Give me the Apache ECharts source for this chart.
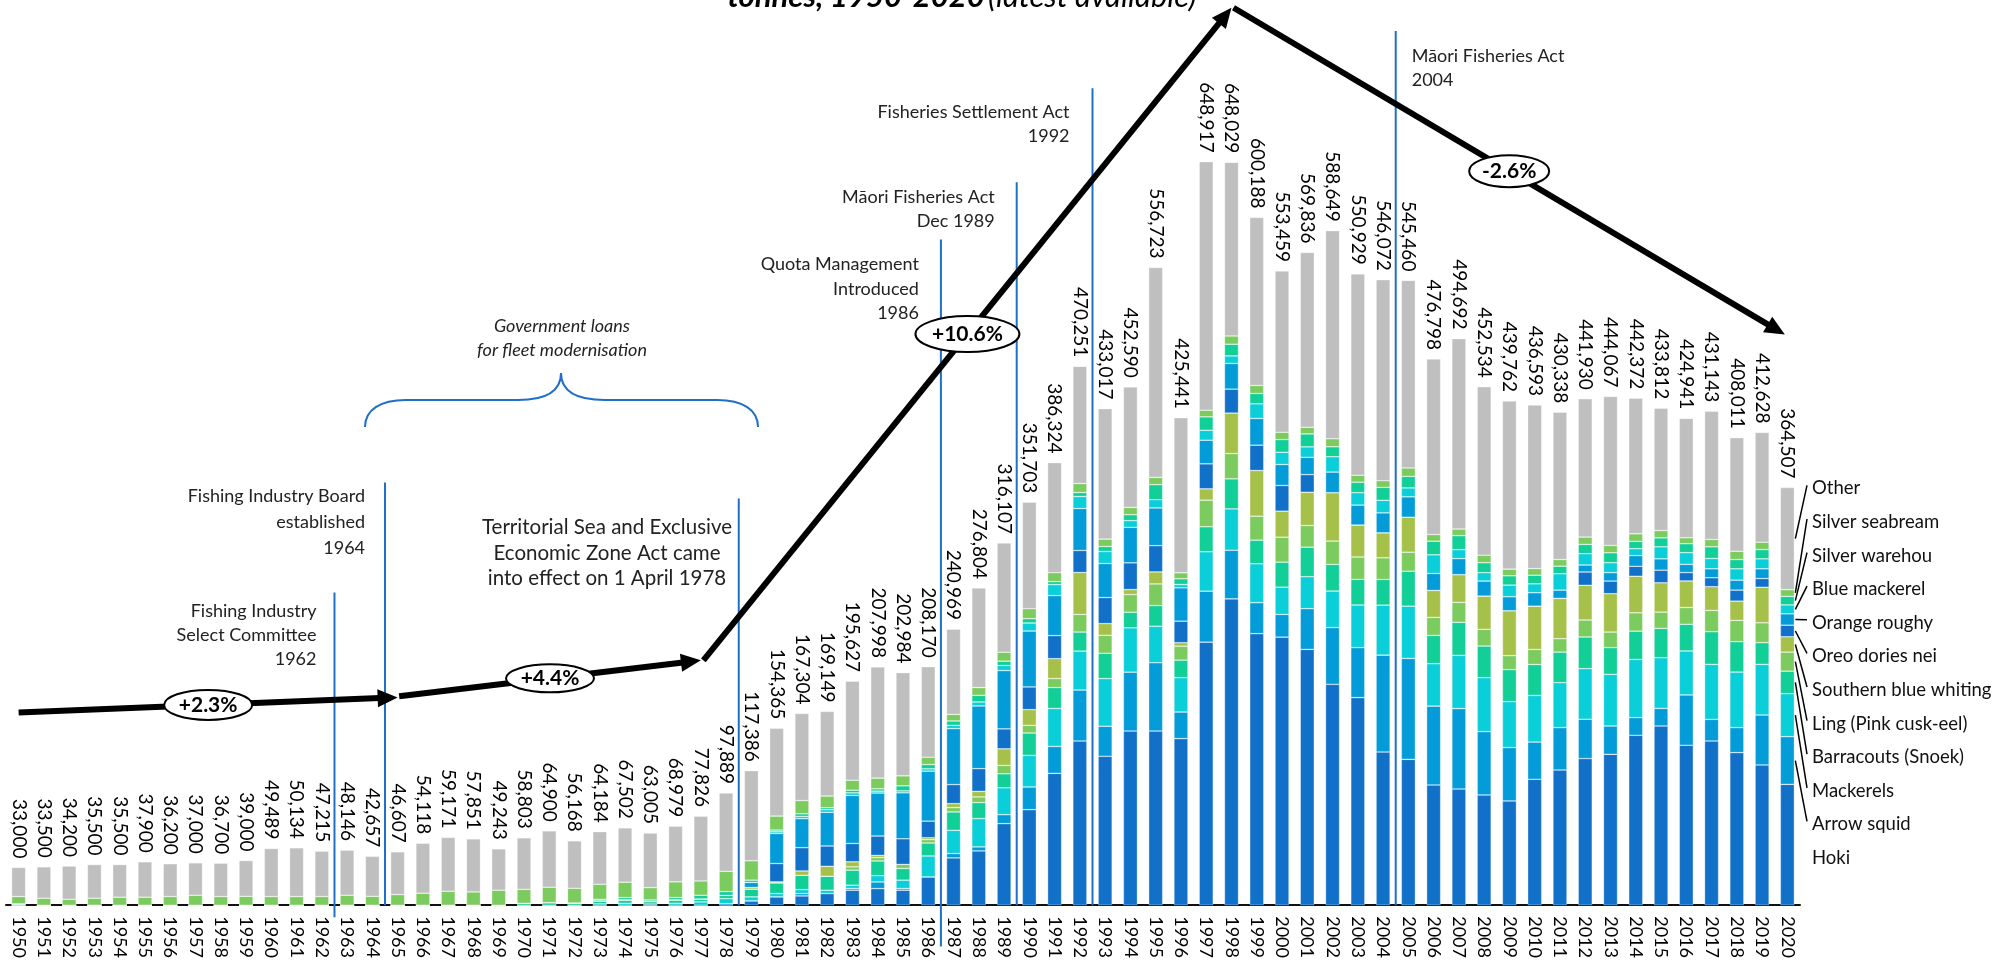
<!DOCTYPE html>
<html>
<head>
<meta charset="utf-8">
<title>Commercial fish catch by species</title>
<script src="https://cdn.jsdelivr.net/npm/echarts@6/dist/echarts.min.js"></script>
<style>
  html, body { margin: 0; padding: 0; background: #fff; }
  #chart { width: 1995px; height: 961px; }
</style>
</head>
<body>
<div id="chart"></div>
<script>
const years = [
  '1950','1951','1952','1953','1954','1955','1956','1957','1958','1959',
  '1960','1961','1962','1963','1964','1965','1966','1967','1968','1969',
  '1970','1971','1972','1973','1974','1975','1976','1977','1978','1979',
  '1980','1981','1982','1983','1984','1985','1986','1987','1988','1989',
  '1990','1991','1992','1993','1994','1995','1996','1997','1998','1999',
  '2000','2001','2002','2003','2004','2005','2006','2007','2008','2009',
  '2010','2011','2012','2013','2014','2015','2016','2017','2018','2019',
  '2020'
]

// total catch (tonnes), printed above each bar
const totals = [
  33000, 33500, 34200, 35500, 35500, 37900, 36200, 37000, 36700, 39000,
  49489, 50134, 47215, 48146, 42657, 46607, 54118, 59171, 57851, 49243,
  58803, 64900, 56168, 64184, 67502, 63005, 68979, 77826, 97889, 117386,
  154365, 167304, 169149, 195627, 207998, 202984, 208170, 240969, 276804, 316107,
  351703, 386324, 470251, 433017, 452590, 556723, 425441, 648917, 648029, 600188,
  553459, 569836, 588649, 550929, 546072, 545460, 476798, 494692, 452534, 439762,
  436593, 430338, 441930, 444067, 442372, 433812, 424941, 431143, 408011, 412628,
  364507
]

const hoki = [
  0, 0, 0, 0, 0, 0, 0, 0, 0, 0,
  0, 0, 0, 0, 0, 0, 0, 0, 0, 0,
  0, 0, 0, 0, 0, 0, 0, 0, 0, 3800,
  7300, 8100, 10200, 13100, 14500, 13100, 24700, 41300, 47400, 71200,
  83400, 115100, 143300, 130000, 152000, 152000, 145400, 229600, 267400, 237000,
  234000, 223300, 192800, 181200, 133700, 127300, 104900, 101400, 96200, 91000,
  109900, 118000, 128000, 131700, 148300, 156400, 139600, 143300, 133200, 122400,
  105500
]
const arrowSquid = [
  0, 0, 0, 0, 0, 0, 0, 0, 0, 0,
  0, 0, 0, 0, 0, 0, 0, 0, 0, 0,
  0, 0, 0, 0, 0, 0, 0, 0, 1300, 0,
  0, 2000, 0, 1500, 5800, 1500, 0, 3800, 3500, 7800,
  19800, 23500, 44500, 26200, 51400, 59600, 23200, 44500, 42400, 27000,
  19800, 35500, 49500, 43600, 84600, 88100, 68900, 70200, 55300, 46600,
  32500, 37000, 34300, 24700, 15400, 15400, 43900, 18900, 21800, 43600,
  41600
]
const mackerels = [
  0, 0, 0, 0, 0, 0, 0, 0, 0, 0,
  0, 0, 0, 0, 0, 0, 0, 0, 0, 0,
  0, 0, 0, 1200, 1700, 1000, 1700, 2900, 4400, 3500,
  2900, 3500, 2900, 2900, 5500, 7300, 18300, 20300, 24700, 23500,
  27600, 33100, 34000, 41600, 38700, 31900, 30000, 34400, 36100, 34000,
  23800, 27900, 31900, 37200, 43600, 45600, 37000, 46500, 47100, 40100,
  40700, 39200, 44200, 45100, 50800, 44200, 38400, 48000, 48500, 44200,
  37500
]
const barracouta = [
  1200, 0, 0, 0, 0, 0, 0, 0, 0, 0,
  0, 0, 0, 0, 0, 0, 0, 0, 0, 0,
  1700, 2300, 2000, 2600, 3000, 2200, 3000, 2600, 2900, 6700,
  9300, 12500, 12200, 13100, 12800, 10200, 11300, 16000, 14000, 12200,
  19500, 18300, 16600, 22100, 13600, 18000, 15300, 21800, 26200, 20600,
  21800, 25800, 23300, 22400, 22400, 30500, 24700, 28800, 27600, 27900,
  27000, 26700, 27600, 23300, 24700, 25600, 23300, 28500, 26500, 18900,
  19700
]
const ling = [
  0, 0, 0, 0, 0, 0, 0, 0, 0, 0,
  0, 0, 0, 0, 0, 0, 0, 0, 0, 0,
  0, 0, 0, 0, 0, 0, 0, 0, 0, 0,
  0, 0, 0, 2900, 2900, 3500, 2900, 3800, 4900, 7300,
  6700, 7800, 15400, 15700, 15400, 18900, 12200, 23200, 22100, 20900,
  21800, 18900, 20300, 19500, 18900, 16600, 15700, 17400, 14600, 12200,
  13100, 11700, 14800, 13600, 16000, 14200, 14600, 18600, 18600, 17400,
  16600
]
const blueWhiting = [
  0, 0, 0, 0, 0, 0, 0, 0, 0, 0,
  0, 0, 0, 0, 0, 0, 0, 0, 0, 0,
  0, 0, 0, 0, 0, 0, 0, 0, 0, 1500,
  900, 3800, 8700, 4400, 2000, 0, 1700, 3500, 4900, 14500,
  13700, 17400, 36600, 10200, 4400, 10500, 3000, 9900, 35300, 39900,
  22700, 29000, 42200, 27900, 21800, 30500, 23500, 24200, 29000, 39200,
  37800, 35200, 30300, 33500, 31900, 25600, 23200, 20700, 16800, 31000,
  13400
]
const oreo = [
  0, 0, 0, 0, 0, 0, 0, 0, 0, 0,
  0, 0, 0, 0, 0, 0, 0, 0, 0, 0,
  0, 0, 0, 0, 0, 0, 0, 0, 0, 0,
  16000, 20300, 17700, 16000, 16900, 22400, 14500, 16600, 19800, 17400,
  19800, 20100, 19200, 22700, 23300, 22900, 18800, 21800, 20900, 22100,
  22400, 15400, 0, 0, 0, 0, 0, 0, 0, 0,
  0, 0, 11600, 11000, 8700, 11000, 7300, 7800, 9600, 7600,
  10100
]
const orangeRoughy = [
  0, 0, 0, 0, 0, 0, 0, 0, 0, 0,
  0, 0, 0, 0, 0, 0, 0, 0, 0, 0,
  0, 0, 0, 0, 0, 0, 0, 0, 0, 4400,
  26200, 25300, 29400, 41900, 37500, 40100, 43600, 48800, 54700, 50900,
  48800, 34900, 36600, 29700, 31000, 32900, 29100, 20600, 22400, 23300,
  18300, 15100, 18000, 17400, 17400, 17800, 14800, 14000, 13100, 12200,
  11700, 7200, 6100, 7300, 9300, 9900, 7200, 7800, 8700, 8500,
  9900
]
const blueMackerel = [
  0, 0, 0, 0, 0, 0, 0, 0, 0, 0,
  0, 0, 0, 0, 0, 0, 0, 0, 0, 0,
  0, 0, 0, 0, 0, 0, 0, 0, 0, 0,
  1500, 2000, 2300, 2300, 1700, 1700, 2000, 2900, 3500, 4400,
  7000, 9600, 10500, 10500, 5800, 7200, 2900, 8700, 6600, 12800,
  10700, 9100, 13400, 10800, 11000, 7800, 16300, 7800, 7300, 10200,
  7800, 14300, 9900, 8700, 6100, 10500, 10200, 9000, 9900, 8700,
  7800
]
const silverWarehou = [
  0, 0, 0, 0, 0, 0, 0, 0, 0, 0,
  0, 0, 0, 0, 0, 0, 0, 0, 0, 0,
  0, 0, 0, 1400, 2000, 1400, 2000, 3200, 3300, 2000,
  1500, 2300, 1700, 2300, 2000, 4400, 3800, 3800, 5800, 3800,
  3800, 2600, 3500, 4400, 5200, 13100, 5000, 11700, 10200, 9000,
  11100, 11300, 8700, 9200, 11300, 10100, 11900, 12200, 8700, 8100,
  7500, 6600, 8100, 8700, 6400, 7800, 7800, 10200, 8100, 8100,
  7500
]
const silverSeabream = [
  6400, 6100, 5200, 6100, 7000, 7000, 7600, 8700, 7600, 7800,
  7600, 7600, 7600, 8700, 7800, 9300, 10500, 12200, 11600, 13100,
  12200, 13400, 12800, 13100, 13400, 10700, 13700, 12500, 17700, 16900,
  12200, 11600, 10200, 8700, 9300, 8700, 6400, 5800, 6700, 7800,
  8700, 7800, 7800, 6400, 6400, 6400, 5200, 5800, 7200, 7000,
  6400, 5800, 7000, 6100, 5800, 7300, 5800, 5800, 6600, 5800,
  5800, 5800, 6400, 6400, 6500, 6400, 5200, 6400, 7200, 6400,
  5800
]
const other = [
  25400, 27400, 29000, 29400, 28500, 30900, 28600, 28300, 29100, 31200,
  41900, 42500, 39600, 39400, 34900, 37300, 43600, 47000, 46300, 36100,
  44900, 49200, 41400, 45900, 47400, 47700, 48600, 56600, 68300, 78600,
  76600, 75900, 73800, 86500, 97100, 90100, 79000, 74400, 86900, 95300,
  92900, 96100, 102300, 113900, 105200, 183100, 135300, 216900, 151500, 146600,
  140700, 152600, 181600, 175700, 175400, 163700, 153200, 166200, 147000, 146700,
  142700, 128600, 120700, 130000, 118300, 106800, 104200, 111900, 99100, 95800,
  89100
]

// stack order, bottom to top
const speciesNames = [
  'Hoki', 'Arrow squid', 'Mackerels', 'Barracouts (Snoek)', 'Ling (Pink cusk-eel)',
  'Southern blue whiting', 'Oreo dories nei', 'Orange roughy', 'Blue mackerel',
  'Silver warehou', 'Silver seabream', 'Other'
]
const speciesData = [
  hoki, arrowSquid, mackerels, barracouta, ling, blueWhiting,
  oreo, orangeRoughy, blueMackerel, silverWarehou, silverSeabream, other
]
const speciesColors = [
  '#1170c8', '#039cd8', '#0bcfd8', '#12cf98', '#7bcb5f', '#a6c14a',
  '#1170c8', '#039cd8', '#0bcfd8', '#12cf98', '#7bcb5f', '#bfbfbf'
]

// policy events: year boundary, top and bottom of the marker line (tonnes)
const events = [
  { year: 1962.5, top: 273000, bottom: -10500 },
  { year: 1964.5, top: 369000, bottom: 0 },
  { year: 1978.5, top: 355000, bottom: 0 },
  { year: 1986.5, top: 581000, bottom: -36000 },
  { year: 1989.5, top: 631000, bottom: 0 },
  { year: 1992.5, top: 713000, bottom: 0 },
  { year: 2004.5, top: 763000, bottom: 0 }
]

// average annual growth arrows (year, tonnes)
const trends = [
  { from: [1950.0, 168300], to: [1965.0, 181400], label: '+2.3%', rx: 44, ry: 15 },
  { from: [1965.06, 182300], to: [1977.0, 213700], label: '+4.4%', rx: 44, ry: 14 },
  { from: [1977.1, 213700], to: [1998.0, 783200], label: '+10.6%', rx: 52, ry: 18 },
  { from: [1998.08, 783200], to: [2019.9, 498000], label: '-2.6%', rx: 40, ry: 16 }
]

const FONT = 'Lato, "Liberation Sans", sans-serif'
const LINE_BLUE = '#1f6fc7'

const chartDom = document.getElementById('chart')
const chart = echarts.init(chartDom, null, { renderer: 'canvas' })

const series = speciesNames.map((name, i) => {
  const s = {
    name: name,
    type: 'bar',
    stack: 'catch',
    xAxisIndex: 0,
    yAxisIndex: 0,
    barWidth: 14,
    data: speciesData[i],
    itemStyle: {
      color: speciesColors[i],
      borderColor: 'rgba(255,255,255,0.55)',
      borderWidth: 0.6
    },
    emphasis: { disabled: true }
  }
  if (name === 'Other') {
    s.label = {
      show: true,
      position: 'top',
      distance: 9,
      rotate: -90,
      align: 'right',
      verticalAlign: 'middle',
      fontFamily: FONT,
      fontSize: 19,
      color: '#000',
      formatter: (p) => totals[p.dataIndex].toLocaleString('en-US')
    }
  }
  return s
})

const option = {
  animation: false,
  backgroundColor: '#fff',
  grid: { left: 6, right: 195, top: 0, bottom: 55 },
  xAxis: [
    {
      type: 'category',
      data: years,
      axisLine: { lineStyle: { color: '#111', width: 2 } },
      axisTick: { show: false },
      axisLabel: {
        rotate: -90,
        margin: 11,
        interval: 0,
        fontFamily: FONT,
        fontSize: 18,
        color: '#000'
      }
    },
    {
      type: 'value',
      min: 1949.5,
      max: 2020.5,
      show: false
    }
  ],
  yAxis: {
    type: 'value',
    min: 0,
    max: 790000,
    show: false
  },
  series: series
}

chart.setOption(option)

// ---------- annotations ----------
const toPx = (yr, t) => chart.convertToPixel({ xAxisIndex: 1, yAxisIndex: 0 }, [yr, t])
const elements = []

function addText(x, y, text, align, extra) {
  elements.push({
    type: 'text',
    x: x,
    y: y,
    z: 20,
    style: Object.assign({
      text: text,
      fill: '#222',
      font: '18px ' + FONT,
      align: align,
      verticalAlign: 'middle',
      lineHeight: 24
    }, extra || {})
  })
}

function addCurve(x1, y1, cx1, cy1, cx2, cy2, x2, y2) {
  elements.push({
    type: 'bezierCurve',
    z: 15,
    shape: { x1: x1, y1: y1, cpx1: cx1, cpy1: cy1, cpx2: cx2, cpy2: cy2, x2: x2, y2: y2 },
    style: { stroke: LINE_BLUE, lineWidth: 2, fill: null }
  })
}

function addSegment(x1, y1, x2, y2, color, width, z) {
  elements.push({
    type: 'line',
    z: z || 15,
    shape: { x1: x1, y1: y1, x2: x2, y2: y2 },
    style: { stroke: color, lineWidth: width }
  })
}

// event marker lines
const eventX = events.map((e) => {
  const p1 = toPx(e.year, e.top)
  const p2 = toPx(e.year, e.bottom)
  addSegment(p1[0], p1[1], p2[0], p2[1], LINE_BLUE, 2, 15)
  return p1[0]
})

addText(eventX[0] - 18, 635, 'Fishing Industry\nSelect Committee\n1962', 'right', { lineHeight: 24 })
addText(eventX[1] - 20, 522, 'Fishing Industry Board\nestablished\n1964', 'right', { lineHeight: 26 })
addText(607, 553, 'Territorial Sea and Exclusive\nEconomic Zone Act came\ninto effect on 1 April 1978', 'center', { font: '20.5px ' + FONT, lineHeight: 25.5 })
addText(eventX[3] - 22, 289, 'Quota Management\nIntroduced\n1986', 'right', { lineHeight: 24.5 })
addText(eventX[4] - 22, 209, 'Māori Fisheries Act\nDec 1989', 'right', { lineHeight: 24.5 })
addText(eventX[5] - 23, 124, 'Fisheries Settlement Act\n1992', 'right', { lineHeight: 24.5 })
addText(eventX[6] + 16, 68, 'Māori Fisheries Act\n2004', 'left', { lineHeight: 24.5 })
addText(562, 338, 'Government loans\nfor fleet modernisation', 'center', { font: 'italic 18px ' + FONT, lineHeight: 24 })

// curly brace over the fleet loan years
addCurve(365, 427, 365, 410, 380, 400, 406, 400)
addSegment(406, 400, 518, 400, LINE_BLUE, 2, 15)
addCurve(518, 400, 545, 400, 561, 392, 561, 373)
addCurve(561, 373, 561, 392, 578, 400, 605, 400)
addSegment(605, 400, 717, 400, LINE_BLUE, 2, 15)
addCurve(717, 400, 743, 400, 758, 410, 758, 427)

// growth arrows
trends.forEach((t) => {
  const a = toPx(t.from[0], t.from[1])
  const b = toPx(t.to[0], t.to[1])
  const dx = b[0] - a[0]
  const dy = b[1] - a[1]
  const len = Math.hypot(dx, dy)
  const ux = dx / len
  const uy = dy / len
  const headLen = 20
  const headHalf = 9
  const base = [b[0] - ux * headLen, b[1] - uy * headLen]
  addSegment(a[0], a[1], base[0] + ux * 2, base[1] + uy * 2, '#000', 6, 30)
  elements.push({
    type: 'polygon',
    z: 30,
    shape: {
      points: [
        b,
        [base[0] - uy * headHalf, base[1] + ux * headHalf],
        [base[0] + uy * headHalf, base[1] - ux * headHalf]
      ]
    },
    style: { fill: '#000' }
  })
  const mx = (a[0] + b[0]) / 2
  const my = (a[1] + b[1]) / 2
  elements.push({
    type: 'ellipse',
    z: 31,
    shape: { cx: mx, cy: my, rx: t.rx, ry: t.ry },
    style: { fill: '#fff', stroke: '#000', lineWidth: 2 }
  })
  elements.push({
    type: 'text',
    z: 32,
    x: mx,
    y: my,
    style: {
      text: t.label,
      font: 'bold 21px ' + FONT,
      fill: '#000',
      align: 'center',
      verticalAlign: 'middle'
    }
  })
})

// species labels with leader lines to the 2020 bar
const last = years.length - 1
let cum = 0
const labelX = 1812
speciesNames.forEach((name, i) => {
  const v = speciesData[i][last]
  const mid = chart.convertToPixel({ xAxisIndex: 0, yAxisIndex: 0 }, [years[last], cum + v / 2])
  cum += v
  const ly = 858 - i * 33.6
  if (i > 0) {
    addSegment(mid[0] + 8, mid[1], labelX - 5, ly - 3, '#000', 1.5, 15)
  }
  addText(labelX, ly, name, 'left', { fill: '#111', font: '18.5px ' + FONT })
})

// title (only the lower line is visible in the frame)
elements.push({
  type: 'text',
  z: 20,
  x: 962,
  y: -3,
  style: {
    text: '{b|tonnes, 1950-2020} {n|(latest available)}',
    align: 'center',
    verticalAlign: 'middle',
    rich: {
      b: { font: 'italic bold 31px ' + FONT, fill: '#000' },
      n: { font: 'italic 31px ' + FONT, fill: '#000' }
    }
  }
})

chart.setOption({ graphic: { elements: elements } })

window.addEventListener('resize', () => chart.resize())
</script>
</body>
</html>
